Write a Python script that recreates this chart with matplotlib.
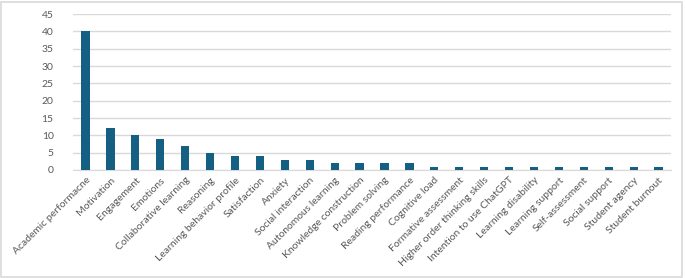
import matplotlib.pyplot as plt
from matplotlib.patches import Rectangle

categories = ["Academic performacne", "Motivation", "Engagement", "Emotions",
              "Collaborative learning", "Reasoning", "Learning behavior profile",
              "Satisfaction", "Anxiety", "Social interaction", "Autonomous learning",
              "Knowledge construction", "Problem solving", "Reading performance",
              "Cognitive load", "Formative assessment", "Higher order thinking skills",
              "Intention to use ChatGPT", "Learning disability", "Learning support",
              "Self-assessment", "Social support", "Student agency", "Student burnout"]
counts = [40, 12, 10, 9, 7, 5, 4, 4, 3, 3, 2, 2, 2, 2, 1, 1, 1, 1, 1, 1, 1, 1, 1, 1]
y_ticks = [0, 5, 10, 15, 20, 25, 30, 35, 40, 45]

plt.rcParams['font.family'] = ['Lato', 'DejaVu Sans']

fig = plt.figure(figsize=(6.85, 2.78), dpi=100)
ax = fig.add_axes([0.1066, 0.3885, 0.873, 0.561])

x = list(range(len(categories)))
ax.bar(x, counts, width=0.33, color="#156082", zorder=3)

ax.set_xlim(-0.5, len(categories) - 0.5)
ax.set_ylim(0, 45)
ax.set_yticks(y_ticks)
ax.yaxis.grid(True, color="#d9d9d9", linewidth=1.0, zorder=0)
ax.set_xticks(x)
ax.set_xticklabels(categories, rotation=45, ha="right", rotation_mode="anchor")
ax.tick_params(axis="both", length=0, colors="#595959", labelsize=7.5)
ax.tick_params(axis="y", pad=14)
ax.tick_params(axis="x", pad=4)
for side in ["top", "right", "left"]:
    ax.spines[side].set_visible(False)
ax.spines["bottom"].set_color("#d9d9d9")

fig.patches.append(Rectangle((0.002, 0.004), 0.994, 0.99, transform=fig.transFigure,
                             fill=False, edgecolor="#d9d9d9", linewidth=1.2))

fig.savefig("out.png", dpi=100)
